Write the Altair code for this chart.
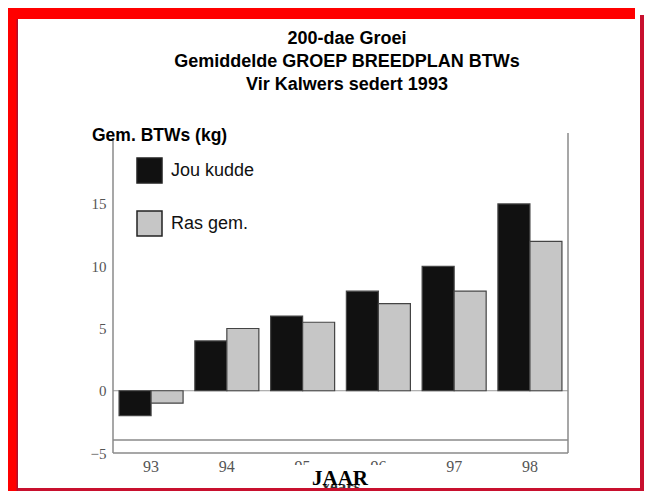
import altair as alt
import pandas as pd

# ---- data ----
years = ["93", "94", "95", "96", "97", "98"]
series = ["Jou kudde", "Ras gem."]
jou_kudde = [-2, 4, 6, 8, 10, 15]
ras_gem = [-1, 5, 5.5, 7, 8, 12]
y_ticks = [-5, 0, 5, 10, 15]
title_lines = ["200-dae Groei", "Gemiddelde GROEP BREEDPLAN BTWs", "Vir Kalwers sedert 1993"]
y_title = "Gem. BTWs (kg)"
x_title = "JAAR"
x_title_under = "Years"

rows = []
for i, yr in enumerate(years):
    rows.append({"year": yr, "series": series[0], "value": jou_kudde[i]})
    rows.append({"year": yr, "series": series[1], "value": ras_gem[i]})
df = pd.DataFrame(rows)

one = pd.DataFrame({"a": [0]})

SANS = "Liberation Sans"
SERIF = "Liberation Serif"
RED = "#ff0000"
CRIMSON = "#c8102e"
LINE = "#8a8a8a"


def rect(x, x2, y, y2, color):
    return alt.Chart(one).mark_rect(color=color).encode(
        x=alt.value(x), x2=alt.value(x2), y=alt.value(y), y2=alt.value(y2)
    )


def rule(x, x2, y, y2, color=LINE, w=1.5):
    return alt.Chart(one).mark_rule(color=color, strokeWidth=w).encode(
        x=alt.value(x), x2=alt.value(x2), y=alt.value(y), y2=alt.value(y2)
    )


def text(t, x, y, size, weight="normal", font=SANS, color="#000", align="center", baseline="middle"):
    return alt.Chart(one).mark_text(
        text=t, font=font, fontSize=size, fontWeight=weight, color=color,
        align=align, baseline=baseline
    ).encode(x=alt.value(x), y=alt.value(y))


zero_line = alt.Chart(one).mark_rule(color="#999999", strokeWidth=1).encode(
    y=alt.datum(0), x=alt.value(0), x2=alt.value(455)
)

bars = alt.Chart(df).mark_bar(stroke="#444444", strokeWidth=1.2).encode(
    x=alt.X(
        "year:N", sort=years,
        scale=alt.Scale(paddingInner=0.155, paddingOuter=0.08),
        axis=alt.Axis(title=None, domain=False, ticks=False, labelAngle=0,
                      labelFont=SERIF, labelFontSize=16, labelColor="#555555",
                      labelPadding=5),
    ),
    xOffset=alt.XOffset("series:N", sort=series,
                        scale=alt.Scale(paddingInner=0, paddingOuter=0)),
    y=alt.Y(
        "value:Q", stack=None,
        scale=alt.Scale(domain=[-5, 20.7], nice=False),
        axis=alt.Axis(values=y_ticks, title=None, domain=False, ticks=False, grid=False,
                      labelFont=SERIF, labelFontSize=15, labelColor="#555555",
                      labelPadding=7),
    ),
    color=alt.Color(
        "series:N",
        scale=alt.Scale(domain=series, range=["#111111", "#c6c6c6"]),
        legend=alt.Legend(
            orient="none", legendX=23, legendY=24, title=None,
            symbolType="square", symbolSize=625, symbolStrokeColor="#222222",
            symbolStrokeWidth=1.5, rowPadding=22, labelOffset=8,
            labelFont=SANS, labelFontSize=18, labelColor="#111111",
            padding=0, direction="vertical",
        ),
    ),
)

layers = [
    # frame
    rect(-105, -95, -125, 358, RED),
    rect(-96.5, -95, -114, 358, "#b0102c"),
    rect(-105, 522, -125, -114, RED),
    # chart box
    zero_line,
    bars,
    rule(0, 0, 5, 320),
    rule(455, 455, 0, 320),
    rule(0, 455, 307, 307),
    rule(0, 455, 320, 320),
    # titles
    text(title_lines[0], 234, -94, 18, "bold"),
    text(title_lines[1], 234, -71, 18, "bold"),
    text(title_lines[2], 234, -48, 18, "bold"),
    text(y_title, -21, 3, 17.5, "bold", align="left"),
    # x title
    text(x_title_under, 227, 359, 17, "bold", font=SERIF, color="#333333", baseline="alphabetic"),
    rect(172, 282, 332, 351, "white"),
    text(x_title, 227, 346, 21, "bold", font=SERIF),
    # right / bottom frame lines
    rect(527, 531, -118, 358, CRIMSON),
    rect(-95, 531, 355, 358, CRIMSON),
]

chart = alt.layer(*layers).properties(
    width=455, height=320,
    padding={"left": 105, "top": 125, "right": 76, "bottom": 38},
    autosize=alt.AutoSizeParams(type="none"),
    background="white",
).configure_view(stroke=None)

chart.save("out.html", embed_options={"renderer": "svg", "actions": False})
